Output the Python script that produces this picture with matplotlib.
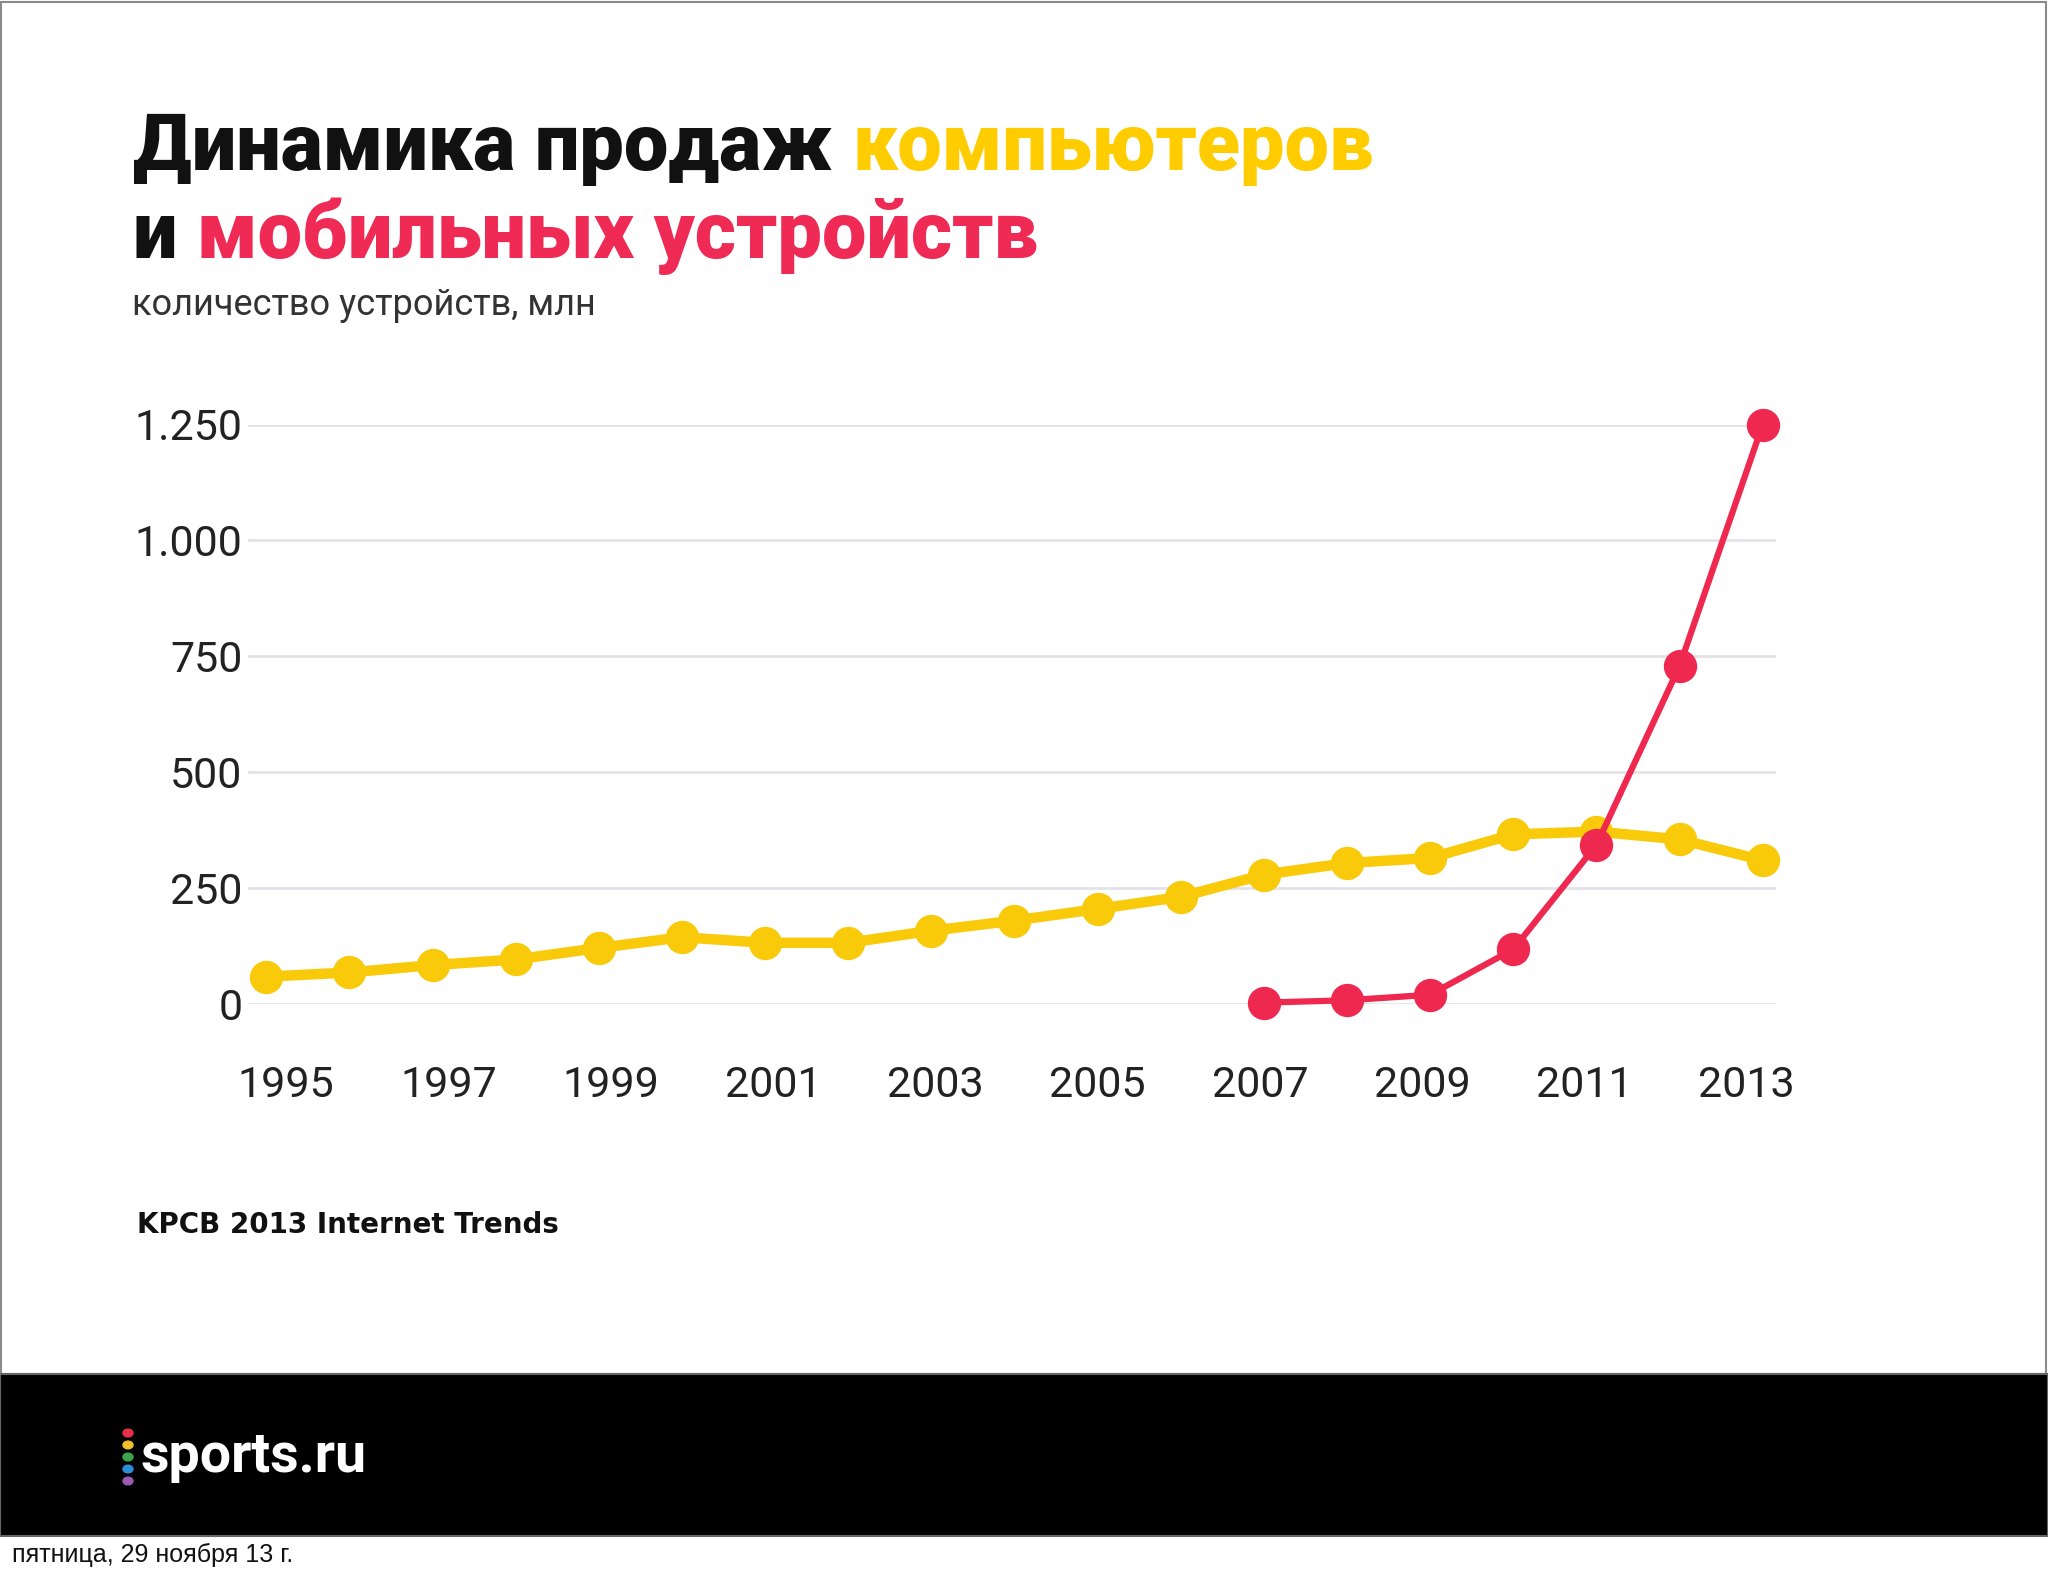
"""Динамика продаж компьютеров и мобильных устройств (sports.ru slide)."""

import matplotlib

matplotlib.use("Agg")
import matplotlib.pyplot as plt
from matplotlib.patches import Rectangle
from matplotlib.transforms import IdentityTransform, ScaledTranslation

W, H = 2048, 1576

years_pc = list(range(1995, 2014))
pc_units = [59, 68, 84, 96, 121, 144, 132, 132, 158, 180,
            205, 231, 279, 304, 315, 366, 372, 355, 310]
years_mobile = list(range(2007, 2014))
mobile_units = [3, 8, 20, 118, 343, 729, 1250]

x_ticks = list(range(1995, 2014, 2))
y_ticks = [0, 250, 500, 750, 1000, 1250]
y_tick_labels = ["0", "250", "500", "750", "1.000", "1.250"]

title_line1 = [("Динамика продаж ", "#111111"), ("компьютеров", "#FFCC00")]
title_line2 = [("и ", "#111111"), ("мобильных устройств", "#EE2A55")]
subtitle = "количество устройств, млн"
source = "KPCB 2013 Internet Trends"
date_text = "пятница, 29 ноября 13 г."
logo_text = "sports.ru"
logo_dots = ["#E8304A", "#F2C12E", "#3FA34D", "#2A8FD8", "#9A5BB0"]

YELLOW = "#F9CA0A"
RED = "#EF2850"


def fx(x):
    return x / W


def fy(y):
    return 1 - y / H


def colored_line(fig, x, y, parts, **kw):
    """Write text parts of different colours one after another (pixel coords)."""
    renderer = fig.canvas.get_renderer()
    for text, color in parts:
        t = fig.text(x, H - y, text, color=color, transform=IdentityTransform(),
                     va="baseline", ha="left", **kw)
        x += t.get_window_extent(renderer).width


fig = plt.figure(figsize=(W / 100, H / 100), dpi=100)
fig.patch.set_facecolor("white")

# frame and black footer band
fig.patches.append(Rectangle((fx(1), fy(1374)), fx(2045), fy(2) - fy(1374),
                             transform=fig.transFigure, fill=False,
                             edgecolor="#8a8a8a", linewidth=1.5))
fig.patches.append(Rectangle((0, fy(1536)), 1, fy(1374) - fy(1536),
                             transform=fig.transFigure, facecolor="black",
                             edgecolor="#666666", linewidth=1.5))

title_kw = dict(fontsize=57, fontweight="heavy", family=["Roboto", "DejaVu Sans"])
colored_line(fig, 133, 170, title_line1, **title_kw)
colored_line(fig, 133, 258, title_line2, **title_kw)
fig.text(fx(132), fy(315), subtitle, fontsize=26, color="#333333",
         family=["Roboto", "DejaVu Sans"], va="baseline")

# chart
ax = fig.add_axes([fx(248), fy(1004), fx(1776) - fx(248), fy(424.5) - fy(1004)])
ax.set_facecolor("none")
ax.plot(years_pc, pc_units, color=YELLOW, linewidth=7.5, marker="o",
        markersize=23, solid_capstyle="round", clip_on=False, zorder=3)
ax.plot(years_mobile, mobile_units, color=RED, linewidth=4.5, marker="o",
        markersize=23, clip_on=False, zorder=4)

ax.set_xlim(1994.78, 2013.16)
ax.set_ylim(0, 1250)
ax.set_xticks(x_ticks)
ax.set_yticks(y_ticks)
ax.set_yticklabels(y_tick_labels)
ax.grid(axis="y", color="#e2e2e8", linewidth=2)
ax.set_axisbelow(True)
for side in ax.spines.values():
    side.set_visible(False)
ax.tick_params(axis="both", length=0, labelsize=31, labelcolor="#222222")
ax.tick_params(axis="x", pad=44)
ax.tick_params(axis="y", pad=4)
for lab in ax.get_xticklabels() + ax.get_yticklabels():
    lab.set_family(["Roboto", "DejaVu Sans"])

# year labels in the original sit a bit inward of their points
n = len(x_ticks) - 1
for i, lab in enumerate(ax.get_xticklabels()):
    shift = (20 - 36 * i / n) / 100
    lab.set_transform(lab.get_transform() + ScaledTranslation(shift, 0, fig.dpi_scale_trans))

fig.text(fx(137), fy(1233), source, fontsize=20, fontweight="bold",
         family=["DejaVu Sans"], color="#111111", va="baseline")

# logo
for i, c in enumerate(logo_dots):
    fig.patches.append(plt.Circle((fx(128), fy(1433 + 12 * i)), 5 / W,
                                  transform=fig.transFigure, color=c))
fig.text(fx(141), fy(1472), logo_text, fontsize=40, fontweight="bold",
         family=["Roboto", "DejaVu Sans"], color="white", va="baseline")

fig.text(fx(12), fy(1562), date_text, fontsize=18,
         family=["Liberation Sans", "DejaVu Sans"], color="#111111", va="baseline")

fig.savefig("out.png", dpi=100)
